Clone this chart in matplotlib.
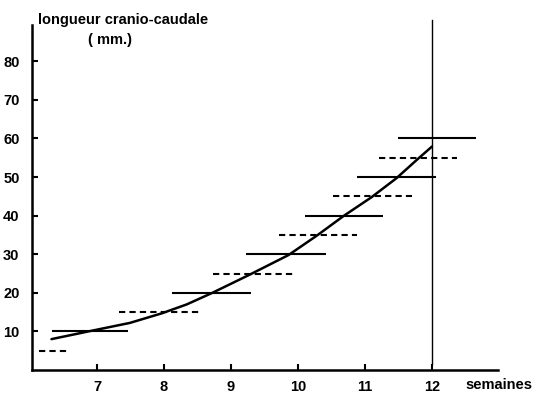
import matplotlib.pyplot as plt

# growth curve (weeks, crown-rump length in mm)
curve_weeks = [6.32, 6.90, 7.49, 7.97, 8.34, 8.71, 9.29, 9.86, 10.28, 10.68, 11.10, 11.47, 11.79, 12.0]
curve_mm = [8.0, 10.1, 12.2, 14.7, 17.0, 19.9, 24.8, 29.8, 34.8, 39.9, 44.8, 49.7, 54.7, 57.9]

# solid range bars
solid_levels = [10, 20, 30, 40, 50, 60]
solid_start = [6.33, 8.12, 9.22, 10.10, 10.88, 11.49]
solid_end = [7.46, 9.30, 10.42, 11.27, 12.06, 12.66]

# dashed range bars
dashed_levels = [5, 15, 25, 35, 45, 55]
dashed_start = [6.13, 7.33, 8.73, 9.72, 10.52, 11.21]
dashed_end = [6.57, 8.52, 9.93, 10.88, 11.70, 12.37]

xticks = [7, 8, 9, 10, 11, 12]
yticks = [10, 20, 30, 40, 50, 60, 70, 80]

plt.rcParams['font.family'] = ['Liberation Sans', 'DejaVu Sans']
plt.rcParams['font.weight'] = 'bold'

fig = plt.figure(figsize=(5.43, 4.0), dpi=100)
ax = fig.add_axes([0.059, 0.075, 0.858, 0.8625])

ax.plot(curve_weeks, curve_mm, color='black', lw=1.8, solid_capstyle='round',
        solid_joinstyle='round')
ax.hlines(solid_levels, solid_start, solid_end, colors='black', lw=1.5)
ax.hlines(dashed_levels, dashed_start, dashed_end, colors='black', lw=1.5,
          linestyles=(0, (3, 2)))
ax.plot([12, 12], [1.5, 90.7], color='black', lw=1.0, clip_on=False)

ax.set_xlim(6.03, 12.985)
ax.set_ylim(0, 89.4)
ax.set_xticks(xticks)
ax.set_yticks(yticks)
ax.tick_params(direction='in', length=4, width=1.5, labelsize=10.5, colors='black')
ax.tick_params(axis='y', pad=9)
ax.tick_params(axis='x', pad=7)
for s in ['top', 'right']:
    ax.spines[s].set_visible(False)
for s in ['left', 'bottom']:
    ax.spines[s].set_linewidth(1.8)

fig.text(0.07, 0.95, 'longueur cranio-caudale', fontsize=10.5, fontweight='bold',
         va='center', ha='left')
fig.text(0.203, 0.90, '( mm.)', fontsize=10.5, fontweight='bold', va='center', ha='center')
fig.text(0.857, 0.037, 'semaines', fontsize=10.5, fontweight='bold', va='center', ha='left')

fig.savefig('out.png', dpi=100)
